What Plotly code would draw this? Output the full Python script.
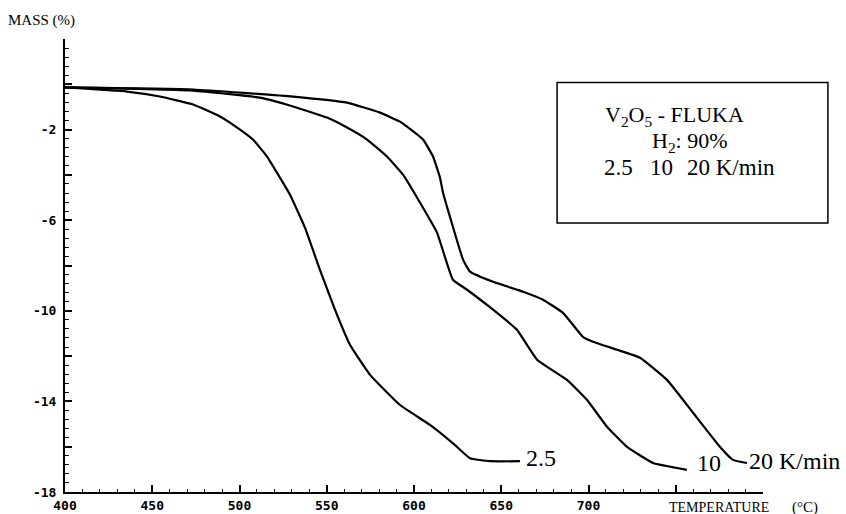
import plotly.graph_objects as go

# ---- data ----
T_25 = [400, 435.5, 454.4, 473.4, 488.8, 500.3, 507.7, 515.8, 523.2, 528.9, 537.5, 546.1,
        554.7, 563.3, 574.8, 592.0, 609.2, 623.5, 632.1, 643.6, 660.7]
M_25 = [-0.14, -0.32, -0.54, -0.89, -1.42, -2.0, -2.44, -3.19, -4.12, -4.87, -6.33, -8.19,
        -9.95, -11.5, -12.83, -14.16, -15.04, -15.93, -16.51, -16.64, -16.64]

T_10 = [400, 473.4, 511.7, 530.7, 550.1, 561.6, 573.1, 584.5, 593.7, 603.4, 613.2, 622.3,
        630.4, 645.3, 659.0, 670.5, 687.7, 699.1, 710.6, 722.1, 737.0, 756.4]
M_10 = [-0.14, -0.28, -0.59, -0.98, -1.47, -1.91, -2.44, -3.19, -3.99, -5.22, -6.55, -8.63,
        -9.07, -9.95, -10.84, -12.16, -13.05, -13.93, -15.12, -16.01, -16.72, -17.02]

T_20 = [400, 473.4, 530.7, 561.6, 580.5, 592.0, 596.0, 605.2, 610.9, 614.9, 616.6, 622.3,
        628.1, 632.1, 645.3, 662.5, 673.9, 685.4, 696.8, 702.6, 716.3, 729.5, 745.0, 759.9,
        775.4, 782.8, 790.8]
M_20 = [-0.14, -0.23, -0.54, -0.81, -1.25, -1.65, -1.87, -2.44, -3.19, -4.12, -4.78, -6.29,
        -7.74, -8.27, -8.72, -9.16, -9.51, -10.09, -11.15, -11.37, -11.72, -12.07, -13.05, -14.5,
        -16.01, -16.58, -16.72]

x_label_vals = [400, 450, 500, 550, 600, 650, 700]
x_label_text = ["400", "450", "500", "550", "600", "650", "700"]
x_major_ticks = [400, 450, 500, 550, 600, 650, 700, 750, 800]
y_label_vals = [-18, -14, -10, -6, -2]
y_label_text = ["-18", "-14", "-10", "-6", "-2"]
y_major_ticks = [-18, -16, -14, -12, -10, -8, -6, -4, -2, 0, 2]

curve_labels = ["2.5", "10", "20 K/min"]
curve_label_T = [663.0, 761.0, 791.0]
curve_label_M = [-16.5, -16.72, -16.62]

box_title = "V<sub>2</sub>O<sub>5</sub> - FLUKA"
box_gas = "H<sub>2</sub>: 90%"
box_rates = ["2.5", "10", "20 K/min"]

X_RANGE = [400, 800]
Y_RANGE = [-18, 2]

# ---- figure ----
fig = go.Figure()
line_style = dict(color="black", width=2.2, shape="spline", smoothing=0.35)
fig.add_trace(go.Scatter(x=T_25, y=M_25, mode="lines", line=line_style,
                         xaxis="x2", yaxis="y2", showlegend=False, hoverinfo="skip"))
for T, M in [(T_10, M_10), (T_20, M_20)]:
    fig.add_trace(go.Scatter(x=T, y=M, mode="lines", line=line_style,
                             showlegend=False, hoverinfo="skip"))

tick_font = dict(family="DejaVu Sans Mono", size=13, color="black", weight="bold")
serif = "Liberation Serif"

fig.update_layout(
    width=846, height=514,
    margin=dict(l=65, r=83, t=39, b=22, pad=0),
    paper_bgcolor="white", plot_bgcolor="white",
    showlegend=False,
    xaxis=dict(range=X_RANGE, tickvals=x_label_vals, ticktext=x_label_text,
               ticks="inside", ticklen=7, tickwidth=1.5, tickcolor="black",
               showline=True, linecolor="black", linewidth=2, showgrid=False,
               zeroline=False, tickfont=tick_font, automargin=False,
               minor=dict(dtick=10, tick0=400, ticks="inside", ticklen=3.5,
                          tickwidth=1.2, tickcolor="black", showgrid=False)),
    yaxis=dict(range=Y_RANGE, tickvals=y_label_vals, ticktext=y_label_text,
               ticks="inside", ticklen=7, tickwidth=1.5, tickcolor="black",
               showline=True, linecolor="black", linewidth=2, showgrid=False,
               zeroline=False, tickfont=tick_font, automargin=False,
               ticklabelstandoff=4,
               minor=dict(dtick=0.4, tick0=-18, ticks="inside", ticklen=3.5,
                          tickwidth=1.2, tickcolor="black", showgrid=False)),
    xaxis2=dict(range=X_RANGE, overlaying="x", anchor="y2", side="bottom",
                tickvals=x_major_ticks, showticklabels=False,
                ticks="inside", ticklen=7, tickwidth=1.5, tickcolor="black",
                showline=False, showgrid=False, zeroline=False, automargin=False),
    yaxis2=dict(range=Y_RANGE, overlaying="y", anchor="x2", side="left",
                tickvals=y_major_ticks, showticklabels=False,
                ticks="inside", ticklen=7, tickwidth=1.5, tickcolor="black",
                showline=False, showgrid=False, zeroline=False, automargin=False),
)

# box around the annotation block
fig.add_shape(type="rect", xref="paper", yref="paper",
              x0=0.705, x1=1.093, y0=0.594, y1=0.904,
              line=dict(color="black", width=1.5), fillcolor="rgba(0,0,0,0)")

annotations = []
def ann(text, x, y, xref="paper", yref="paper", size=20, xanchor="left", family=serif):
    annotations.append(dict(text=text, x=x, y=y, xref=xref, yref=yref, showarrow=False,
                            xanchor=xanchor, yanchor="middle",
                            font=dict(family=family, size=size, color="black")))

ann("MASS (%)", -0.085, 1.041, size=15)
ann("TEMPERATURE", 0.937, -0.035, size=14, xanchor="center")
ann("(°C)", 1.060, -0.035, size=15, xanchor="center")

ann(box_title, 0.771, 0.829, size=22)
ann(box_gas, 0.838, 0.773, size=22)
for lbl, xp in zip(box_rates, [0.770, 0.835, 0.888]):
    ann(lbl, xp, 0.716, size=23)

for lbl, T, M in zip(curve_labels, curve_label_T, curve_label_M):
    ann(lbl, T, M, xref="x", yref="y", size=24)

fig.update_layout(annotations=annotations)
fig.write_html("out.html")
